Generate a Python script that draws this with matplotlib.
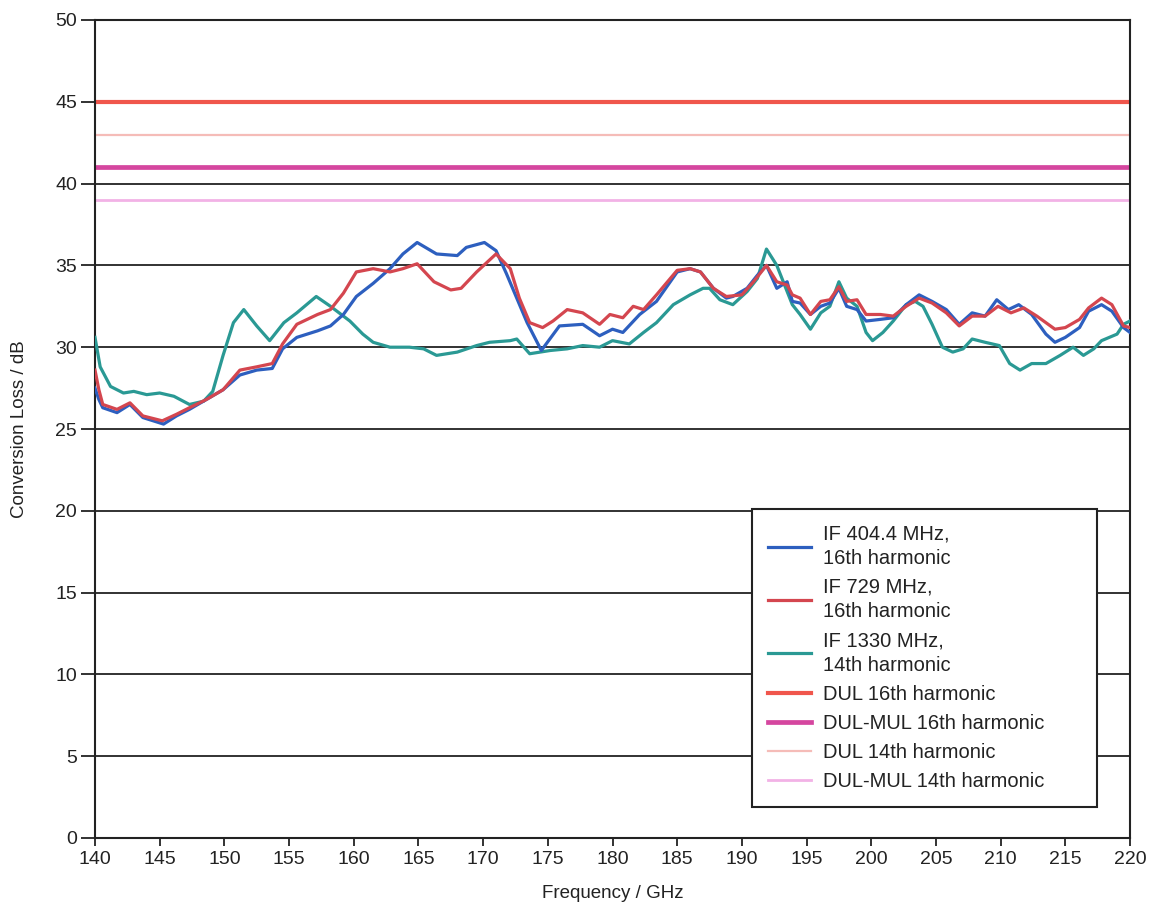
import matplotlib
matplotlib.use("Agg")
import matplotlib.pyplot as plt

# IF 404.4 MHz, 16th harmonic
f_if404 = [140.0, 140.3, 140.6, 141.7, 142.7, 143.7, 145.3, 146.3, 147.3, 148.6,
           149.9, 151.2, 152.5, 153.7, 154.5, 155.6, 157.2, 158.2, 159.2, 160.2,
           161.5, 162.8, 163.8, 164.9, 166.4, 168.0, 168.7, 170.1, 171.0, 171.8,
           173.4, 174.5, 175.9, 177.7, 179.0, 180.0, 180.8, 182.1, 183.4, 185.0,
           186.0, 186.8, 187.8, 188.8, 189.3, 190.4, 191.2, 191.9, 192.7, 193.5,
           193.9, 194.5, 195.3, 196.1, 196.8, 197.5, 198.1, 198.9, 199.6, 200.7,
           201.7, 202.7, 203.7, 204.7, 205.8, 206.8, 207.8, 208.8, 209.7, 210.6,
           211.4, 212.4, 213.5, 214.2, 215.0, 216.1, 216.8, 217.8, 218.6, 219.5,
           220.0]
cl_if404 = [27.5, 26.8, 26.3, 26.0, 26.5, 25.7, 25.3, 25.8, 26.2, 26.8,
            27.4, 28.3, 28.6, 28.7, 29.9, 30.6, 31.0, 31.3, 32.0, 33.1,
            33.9, 34.8, 35.7, 36.4, 35.7, 35.6, 36.1, 36.4, 35.9, 34.5,
            31.5, 29.8, 31.3, 31.4, 30.7, 31.1, 30.9, 32.0, 32.8, 34.6,
            34.8, 34.6, 33.6, 33.0, 33.1, 33.6, 34.4, 35.0, 33.6, 34.0,
            32.8, 32.7, 32.0, 32.5, 32.7, 33.6, 32.5, 32.3, 31.6, 31.7,
            31.8, 32.6, 33.2, 32.8, 32.3, 31.4, 32.1, 31.9, 32.9, 32.3,
            32.6, 32.0, 30.8, 30.3, 30.6, 31.2, 32.2, 32.6, 32.2, 31.2,
            30.9]

# IF 729 MHz, 16th harmonic
f_if729 = [140.0, 140.3, 140.6, 141.7, 142.7, 143.7, 145.2, 146.3, 147.3, 148.6,
           149.9, 151.2, 152.5, 153.7, 154.5, 155.6, 157.2, 158.2, 159.2, 160.2,
           161.5, 162.8, 163.8, 164.9, 166.2, 167.5, 168.3, 169.5, 171.0, 172.1,
           172.8, 173.6, 174.6, 175.4, 176.5, 177.7, 179.0, 179.8, 180.8, 181.6,
           182.4, 183.4, 185.0, 186.0, 186.8, 187.8, 188.8, 190.0, 190.9, 191.9,
           192.7, 193.5, 193.9, 194.5, 195.3, 196.1, 196.8, 197.5, 198.1, 198.9,
           199.6, 200.7, 201.7, 202.7, 203.7, 204.7, 205.8, 206.8, 207.8, 208.8,
           209.8, 210.8, 211.8, 212.8, 214.2, 215.0, 216.1, 216.8, 217.8, 218.6,
           219.5, 220.0]
cl_if729 = [28.6, 27.4, 26.5, 26.2, 26.6, 25.8, 25.5, 25.9, 26.3, 26.8,
            27.4, 28.6, 28.8, 29.0, 30.2, 31.4, 32.0, 32.3, 33.3, 34.6,
            34.8, 34.6, 34.8, 35.1, 34.0, 33.5, 33.6, 34.6, 35.7, 34.8,
            33.0, 31.5, 31.2, 31.6, 32.3, 32.1, 31.4, 32.0, 31.8, 32.5,
            32.3, 33.2, 34.7, 34.8, 34.6, 33.6, 33.1, 33.2, 34.0, 35.0,
            34.0, 33.8, 33.2, 33.0, 32.0, 32.8, 32.9, 33.7, 32.8, 32.9,
            32.0, 32.0, 31.9, 32.5, 33.0, 32.7, 32.1, 31.3, 31.9, 31.9,
            32.5, 32.1, 32.4, 31.9, 31.1, 31.2, 31.7, 32.4, 33.0, 32.6,
            31.3, 31.2]

# IF 1330 MHz, 14th harmonic
f_if1330 = [140.0, 140.4, 141.2, 142.2, 143.0, 144.0, 145.0, 146.1, 147.3, 148.4,
            149.1, 149.9, 150.7, 151.5, 152.5, 153.5, 154.6, 155.6, 157.1, 158.2,
            159.7, 160.7, 161.5, 162.8, 164.3, 165.4, 166.4, 168.0, 169.5, 170.5,
            172.1, 172.6, 173.6, 175.2, 176.5, 177.7, 179.0, 180.0, 181.3, 182.4,
            183.4, 184.7, 186.0, 187.0, 187.5, 188.3, 189.3, 190.4, 191.2, 191.9,
            192.7, 193.2, 193.9, 194.5, 195.3, 196.1, 196.8, 197.5, 198.1, 198.9,
            199.6, 200.1, 200.9, 201.7, 202.7, 203.4, 204.0, 204.7, 205.5, 206.3,
            207.1, 207.8, 208.8, 209.9, 210.7, 211.5, 212.4, 213.5, 214.6, 215.6,
            216.4, 217.2, 217.8, 219.0, 219.5, 220.0]
cl_if1330 = [30.6, 28.8, 27.6, 27.2, 27.3, 27.1, 27.2, 27.0, 26.5, 26.7,
             27.3, 29.5, 31.5, 32.3, 31.3, 30.4, 31.5, 32.1, 33.1, 32.5,
             31.6, 30.8, 30.3, 30.0, 30.0, 29.9, 29.5, 29.7, 30.1, 30.3,
             30.4, 30.5, 29.6, 29.8, 29.9, 30.1, 30.0, 30.4, 30.2, 30.9,
             31.5, 32.6, 33.2, 33.6, 33.6, 32.9, 32.6, 33.4, 34.2, 36.0,
             35.0, 34.0, 32.6, 32.0, 31.1, 32.1, 32.5, 34.0, 33.0, 32.5,
             30.9, 30.4, 30.9, 31.6, 32.6, 32.8, 32.5, 31.4, 30.0, 29.7,
             29.9, 30.5, 30.3, 30.1, 29.0, 28.6, 29.0, 29.0, 29.5, 30.0,
             29.5, 29.9, 30.4, 30.8, 31.4, 31.6]

# design-limit lines (constant over the band)
f_span = [140.0, 220.0]
dul_16 = 45.0
dul_mul_16 = 41.0
dul_14 = 43.0
dul_mul_14 = 39.0

plt.rcParams["font.family"] = ["Liberation Sans", "DejaVu Sans"]

fig = plt.figure(figsize=(11.54, 9.08), dpi=100)
ax = fig.add_axes([95 / 1154, 70 / 908, 1035 / 1154, 818 / 908])

ax.plot(f_if404, cl_if404, color="#2d5fbf", lw=2.3, label="IF 404.4 MHz,\n16th harmonic", zorder=4)
ax.plot(f_if729, cl_if729, color="#d4464f", lw=2.3, label="IF 729 MHz,\n16th harmonic", zorder=5)
ax.plot(f_if1330, cl_if1330, color="#2a9994", lw=2.3, label="IF 1330 MHz,\n14th harmonic", zorder=3)
ax.plot(f_span, [dul_16] * 2, color="#f0564c", lw=3.0, label="DUL 16th harmonic")
ax.plot(f_span, [dul_mul_16] * 2, color="#d5469f", lw=3.4, label="DUL-MUL 16th harmonic")
ax.plot(f_span, [dul_14] * 2, color="#f5bcb8", lw=1.6, label="DUL 14th harmonic")
ax.plot(f_span, [dul_mul_14] * 2, color="#f2b2e6", lw=2.0, label="DUL-MUL 14th harmonic")

ax.set_xlim(140, 220)
ax.set_ylim(0, 50)
ax.set_xticks(range(140, 221, 5))
ax.set_yticks(range(0, 51, 5))
ax.yaxis.grid(True, color="#222222", lw=1.3)
ax.set_axisbelow(True)
for sp in ax.spines.values():
    sp.set_color("#222222")
    sp.set_linewidth(1.5)
ax.tick_params(axis="x", length=6, width=1.3, pad=3, labelsize=14, colors="#222222")
ax.tick_params(axis="y", length=10, width=1.3, pad=3, labelsize=14, colors="#222222")

ax.set_xlabel("Frequency / GHz", fontsize=13.5, color="#222222")
ax.set_ylabel("Conversion Loss / dB", fontsize=13.5, color="#222222")
ax.xaxis.set_label_coords(0.5, -0.058)
ax.yaxis.set_label_coords(-0.065, 0.5)

leg = ax.legend(loc="lower left", bbox_to_anchor=(0.635, 0.038, 0.333, 0.37),
                mode="expand", borderaxespad=0, fontsize=14.5, frameon=True,
                fancybox=False, framealpha=1, edgecolor="#222222",
                handlelength=2.1, handletextpad=0.6, labelspacing=0.5,
                borderpad=0.8)
leg.get_frame().set_linewidth(1.5)
for t in leg.get_texts():
    t.set_color("#222222")
    t.set_linespacing(1.35)

fig.savefig("out.png", dpi=100)
